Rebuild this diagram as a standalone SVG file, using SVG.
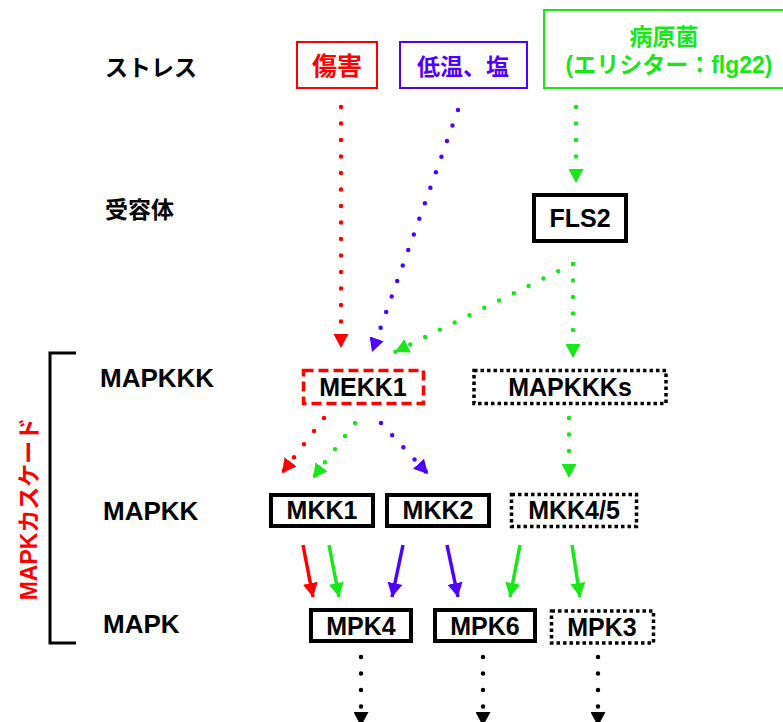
<svg xmlns="http://www.w3.org/2000/svg" width="783" height="722" viewBox="0 0 783 722">
<style>
text{font-family:"Liberation Sans","Noto Sans CJK JP",Arial,sans-serif;font-weight:bold;font-size:25px;fill:#000}
.lbl{font-size:23px}
.row{font-size:26px}
.c{text-anchor:middle}
.box{fill:#fff;stroke:#000;stroke-width:4}
.dotbox{fill:#fff;stroke:#000;stroke-width:3.5;stroke-dasharray:3.5 3}
.dot{fill:none;stroke-width:4.5;stroke-linecap:round;stroke-dasharray:0 16.5}
.sol{fill:none;stroke-width:3.5}
.r{stroke:#ff0000}.g{stroke:#18e818}.b{stroke:#5000ff}.k{stroke:#000}
</style>
<defs>
<marker id="ar" markerUnits="userSpaceOnUse" markerWidth="15" markerHeight="15" refX="14" refY="7.5" orient="auto"><path d="M0,0 L14,7.5 L0,15 z" fill="#ff0000"/></marker>
<marker id="ag" markerUnits="userSpaceOnUse" markerWidth="15" markerHeight="15" refX="14" refY="7.5" orient="auto"><path d="M0,0 L14,7.5 L0,15 z" fill="#18e818"/></marker>
<marker id="ab" markerUnits="userSpaceOnUse" markerWidth="15" markerHeight="15" refX="14" refY="7.5" orient="auto"><path d="M0,0 L14,7.5 L0,15 z" fill="#5000ff"/></marker>
<marker id="ak" markerUnits="userSpaceOnUse" markerWidth="15" markerHeight="15" refX="14" refY="7.5" orient="auto"><path d="M0,0 L14,7.5 L0,15 z" fill="#000"/></marker>
</defs>

<g id="row-labels">
<text class="lbl" x="105" y="76">ストレス</text>
<text class="lbl" x="105" y="218">受容体</text>
<text class="row" x="100" y="387">MAPKKK</text>
<text class="row" x="103" y="520">MAPKK</text>
<text class="row" x="103" y="633">MAPK</text>
</g>

<g id="cascade-bracket">
<path d="M76,353 H50 V643 H76" fill="none" stroke="#000" stroke-width="3"/>
<text class="lbl c" transform="translate(37,509) rotate(-90)" style="fill:#ff0000">MAPKカスケード</text>
</g>

<g id="connectors">
<line class="dot r" x1="341" y1="107" x2="341" y2="348" marker-end="url(#ar)"/>
<line class="dot b" x1="458" y1="110" x2="372" y2="352" marker-end="url(#ab)"/>
<line class="dot g" x1="576" y1="107" x2="576" y2="183" marker-end="url(#ag)"/>
<line class="dot g" x1="573" y1="264" x2="395" y2="352" marker-end="url(#ag)"/>
<line class="dot g" x1="573" y1="264" x2="573" y2="358" marker-end="url(#ag)"/>
<line class="dot r" x1="324" y1="418" x2="282" y2="473" marker-end="url(#ar)"/>
<line class="dot g" x1="355" y1="423" x2="313" y2="478" marker-end="url(#ag)"/>
<line class="dot b" x1="381" y1="423" x2="428" y2="474" marker-end="url(#ab)"/>
<line class="dot g" x1="569" y1="418" x2="569" y2="478" marker-end="url(#ag)"/>
<line class="sol r" x1="303" y1="545" x2="313" y2="597" marker-end="url(#ar)"/>
<line class="sol g" x1="329" y1="545" x2="339" y2="597" marker-end="url(#ag)"/>
<line class="sol b" x1="403" y1="545" x2="392" y2="597" marker-end="url(#ab)"/>
<line class="sol b" x1="447" y1="545" x2="458" y2="597" marker-end="url(#ab)"/>
<line class="sol g" x1="520" y1="545" x2="510" y2="597" marker-end="url(#ag)"/>
<line class="sol g" x1="572" y1="545" x2="580" y2="597" marker-end="url(#ag)"/>
<line class="dot k" x1="361" y1="657" x2="361" y2="726" marker-end="url(#ak)"/>
<line class="dot k" x1="483" y1="657" x2="483" y2="726" marker-end="url(#ak)"/>
<line class="dot k" x1="598" y1="657" x2="598" y2="726" marker-end="url(#ak)"/>
</g>

<g id="injury">
<rect x="297" y="42" width="80" height="46" fill="#fff" stroke="#ff0000" stroke-width="2"/>
<text class="c" x="337" y="75" style="fill:#ff0000">傷害</text>
</g>
<g id="cold-salt">
<rect x="400" y="42" width="127" height="46" fill="#fff" stroke="#5000ff" stroke-width="2"/>
<text class="lbl c" x="463" y="75" style="fill:#5000ff">低温、塩</text>
</g>
<g id="pathogen">
<rect x="544" y="10" width="245" height="78" fill="#fff" stroke="#18e818" stroke-width="2"/>
<text class="lbl c" x="664" y="45" style="fill:#18e818">病原菌</text>
<text class="lbl c" x="669" y="73" style="fill:#18e818">(エリシター：flg22)</text>
</g>
<g id="FLS2">
<rect class="box" x="534" y="195" width="92" height="46"/>
<text class="c" x="580" y="227">FLS2</text>
</g>
<g id="MEKK1">
<rect x="303.5" y="370.5" width="120" height="33" fill="#fff" stroke="#ff0000" stroke-width="3.5" stroke-dasharray="10 5"/>
<text class="c" x="363" y="396">MEKK1</text>
</g>
<g id="MAPKKKs">
<rect class="dotbox" x="474" y="370.5" width="192" height="33"/>
<text class="c" x="570" y="396">MAPKKKs</text>
</g>
<g id="MKK1">
<rect class="box" x="271" y="495" width="102" height="31"/>
<text class="c" x="322" y="519">MKK1</text>
</g>
<g id="MKK2">
<rect class="box" x="387" y="495" width="102" height="31"/>
<text class="c" x="438" y="519">MKK2</text>
</g>
<g id="MKK4-5">
<rect class="dotbox" x="511.5" y="494.5" width="125" height="32"/>
<text class="c" x="574" y="519">MKK4/5</text>
</g>
<g id="MPK4">
<rect class="box" x="311" y="610" width="100" height="31"/>
<text class="c" x="361" y="635">MPK4</text>
</g>
<g id="MPK6">
<rect class="box" x="435" y="610" width="100" height="31"/>
<text class="c" x="485" y="635">MPK6</text>
</g>
<g id="MPK3">
<rect class="dotbox" x="551.5" y="611" width="102" height="32"/>
<text class="c" x="602" y="636">MPK3</text>
</g>
</svg>
